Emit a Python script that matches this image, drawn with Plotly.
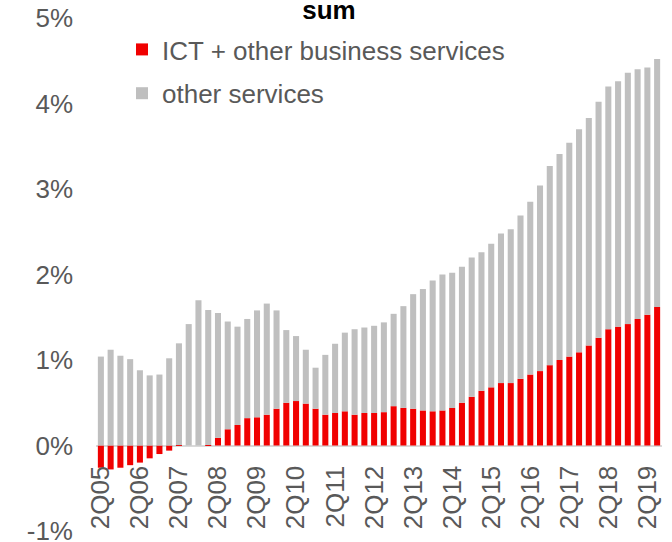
import plotly.graph_objects as go


# quarters 2Q05 .. 3Q19
TRIMESTRES = [f"{q}Q{a:02d}" for a in range(5, 20) for q in range(1, 5)][1:-1]

ICT = [-0.26, -0.28, -0.26, -0.23, -0.20, -0.15, -0.10, -0.06,
       0.005, 0.0, 0.0, 0.005,
       0.09, 0.19, 0.24, 0.32, 0.33, 0.36, 0.43, 0.50,
       0.52, 0.49, 0.43, 0.36, 0.38, 0.40, 0.36, 0.38, 0.38, 0.39,
       0.46, 0.44, 0.43, 0.41, 0.40, 0.41, 0.44, 0.50, 0.57, 0.64,
       0.68, 0.73, 0.73, 0.78, 0.83, 0.87, 0.94, 1.00, 1.04, 1.09,
       1.17, 1.26, 1.36, 1.39, 1.42, 1.48, 1.53, 1.62]

OUTROS = [1.04, 1.12, 1.05, 1.01, 0.88, 0.82, 0.83, 1.02,
          1.19, 1.42, 1.70, 1.58,
          1.46, 1.26, 1.15, 1.16, 1.25, 1.30, 1.15, 0.85,
          0.76, 0.63, 0.48, 0.70, 0.81, 0.92, 1.00, 1.00, 1.02, 1.05,
          1.08, 1.19, 1.34, 1.42, 1.53, 1.59, 1.58, 1.59, 1.63, 1.62,
          1.68, 1.75, 1.80, 1.91, 2.02, 2.17, 2.33, 2.41, 2.50, 2.61,
          2.66, 2.76, 2.84, 2.87, 2.94, 2.92, 2.89, 2.90]

ROTULOS_X = [t for t in TRIMESTRES if t.startswith("2Q")]
TICKS_Y = [-1, 0, 1, 2, 3, 4, 5]
TEXTO_Y = ["-1%", "0%", "1%", "2%", "3%", "4%", "5%"]

COR_ICT = "#f00000"
COR_OUTROS = "#bfbfbf"
COR_TEXTO = "#595959"
FONTE = "Liberation Sans, Arial, sans-serif"

fig = go.Figure()

fig.add_trace(go.Bar(
    name="ICT + other business services", x=TRIMESTRES, y=ICT,
    marker=dict(color=COR_ICT, line=dict(width=0)), legendgroup="a",
))
fig.add_trace(go.Bar(
    name="other services", x=TRIMESTRES, y=OUTROS,
    marker=dict(color=COR_OUTROS, line=dict(width=0)), legendgroup="b",
))

fig.update_layout(
    barmode="relative",
    bargap=0.38,
    width=672, height=542,
    margin=dict(t=18, b=11, l=96, r=10, autoexpand=False),
    paper_bgcolor="white",
    plot_bgcolor="white",
    font=dict(family=FONTE, size=26, color=COR_TEXTO),
    title=dict(
        text="<b>sum</b>", x=329 / 672, xanchor="center",
        y=1, yref="container", yanchor="top", pad=dict(t=1),
        font=dict(size=26, color="black", family=FONTE),
    ),
    xaxis=dict(
        type="category", range=[-0.5, len(TRIMESTRES) - 0.5],
        anchor="free", position=1 / 6,
        tickmode="array", tickvals=ROTULOS_X, ticktext=ROTULOS_X,
        tickangle=-90, ticks="", ticklabelstandoff=14,
        showline=False, showgrid=False, zeroline=False,
        tickfont=dict(size=26, color=COR_TEXTO), automargin=False,
    ),
    yaxis=dict(
        range=[-1, 5], tickmode="array", tickvals=TICKS_Y, ticktext=TEXTO_Y,
        showgrid=False, showline=False,
        zeroline=True, zerolinecolor="#d9d9d9", zerolinewidth=2,
        ticks="", ticklabelstandoff=22, ticklabeloverflow="allow",
        tickfont=dict(size=26, color=COR_TEXTO), automargin=False,
    ),
    legend=dict(
        x=(122 - 96) / 566, xanchor="left", y=(530 - 26) / 512, yanchor="top",
        traceorder="grouped", tracegroupgap=7,
        bgcolor="rgba(0,0,0,0)", itemwidth=30,
        font=dict(size=26, color=COR_TEXTO),
    ),
    showlegend=True,
)

fig.write_html("out.html", config={"displayModeBar": False},
               post_script="document.body.style.margin='0';")
